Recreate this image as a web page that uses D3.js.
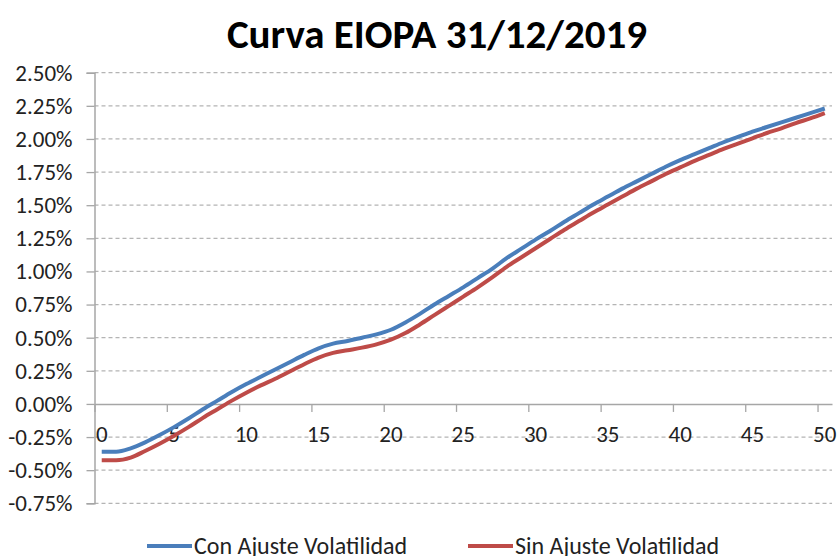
<!DOCTYPE html>
<html>
<head>
<meta charset="utf-8">
<script src="https://cdn.jsdelivr.net/npm/d3@7"></script>
<style>
  body { margin: 0; background: #fff; }
  svg { display: block; font-family: Carlito, Calibri, Lato, sans-serif; }
</style>
</head>
<body>
<div id="chart"></div>
<script>
// EIOPA risk free curve at 31/12/2019, maturity 0..50 years (values in %)
const maturities = d3.range(0, 51)

const conAjuste = [-0.36, -0.36, -0.335, -0.29, -0.235, -0.175, -0.11, -0.04, 0.025, 0.09,
  0.15, 0.205, 0.26, 0.315, 0.37, 0.42, 0.455, 0.475, 0.50, 0.525,
  0.56, 0.615, 0.68, 0.75, 0.815, 0.88, 0.95, 1.02, 1.10, 1.17,
  1.24, 1.305, 1.375, 1.44, 1.505, 1.565, 1.625, 1.68, 1.735, 1.79,
  1.84, 1.885, 1.93, 1.975, 2.015, 2.055, 2.09, 2.125, 2.16, 2.195, 2.23]

const sinAjuste = [-0.425, -0.425, -0.405, -0.355, -0.30, -0.24, -0.175, -0.105, -0.04, 0.025,
  0.085, 0.14, 0.19, 0.245, 0.30, 0.35, 0.385, 0.405, 0.425, 0.45,
  0.485, 0.535, 0.60, 0.67, 0.74, 0.81, 0.88, 0.955, 1.035, 1.105,
  1.175, 1.245, 1.315, 1.38, 1.445, 1.505, 1.565, 1.625, 1.68, 1.735,
  1.785, 1.835, 1.88, 1.925, 1.965, 2.005, 2.045, 2.08, 2.12, 2.155, 2.195]

const xTicks = [0, 5, 10, 15, 20, 25, 30, 35, 40, 45, 50]
const yTicks = [-0.75, -0.5, -0.25, 0, 0.25, 0.5, 0.75, 1, 1.25, 1.5, 1.75, 2, 2.25, 2.5]

const seriesNames = ['Con Ajuste Volatilidad', 'Sin Ajuste Volatilidad']
const seriesColors = ['#4a7ebb', '#be4b48']

const width = 839
const height = 556
const plot = { left: 94.5, right: 832, top: 72.7, bottom: 503.3 }

const svg = d3.select('#chart').append('svg')
  .attr('width', width)
  .attr('height', height)

// category axis: each maturity takes one slot, ticks sit between slots
const x = d3.scaleLinear().domain([0, maturities.length]).range([plot.left, plot.right])
const y = d3.scaleLinear().domain([-0.75, 2.5]).range([plot.bottom, plot.top])

// title
svg.append('text')
  .attr('x', 437)
  .attr('y', 48)
  .attr('text-anchor', 'middle')
  .style('font-size', '41px')
  .style('font-weight', '700')
  .style('fill', '#000')
  .text('Curva EIOPA 31/12/2019')

// dashed gridlines
svg.append('g')
  .selectAll('line')
  .data(yTicks.filter(d => d !== 0))
  .enter()
  .append('line')
  .attr('x1', plot.left)
  .attr('x2', plot.right)
  .attr('y1', d => y(d))
  .attr('y2', d => y(d))
  .style('stroke', '#b4b4b4')
  .style('stroke-width', 1.3)
  .style('stroke-dasharray', '4,3')

// y axis
const yAxis = svg.append('g')
  .attr('transform', `translate(${plot.left},0)`)
  .call(d3.axisLeft(y).tickValues(yTicks).tickSize(8).tickPadding(14)
    .tickFormat(d => d.toFixed(2) + '%'))
yAxis.select('.domain').style('stroke', '#a6a6a6').style('stroke-width', 1.5)
yAxis.selectAll('.tick line').style('stroke', '#a6a6a6').style('stroke-width', 1.3)
yAxis.selectAll('.tick text')
  .style('font-family', 'Carlito, Calibri, Lato, sans-serif')
  .style('font-size', '23px')
  .style('fill', '#222')

// x axis at 0%, with ticks below and labels centred on the categories
const xAxis = svg.append('g')
  .attr('transform', `translate(0,${y(0)})`)
  .call(d3.axisBottom(x).tickValues(xTicks).tickSize(8).tickSizeOuter(0).tickFormat(''))
xAxis.select('.domain').style('stroke', '#a6a6a6').style('stroke-width', 1.5)
xAxis.selectAll('.tick line').style('stroke', '#a6a6a6').style('stroke-width', 1.3)

svg.append('g')
  .selectAll('text')
  .data(xTicks)
  .enter()
  .append('text')
  .attr('x', d => x(d + 0.5))
  .attr('y', y(0) + 38)
  .attr('text-anchor', 'middle')
  .style('font-size', '23px')
  .style('fill', '#222')
  .text(d => d)

// the two curves
const line = d3.line()
  .x((d, i) => x(maturities[i] + 0.5))
  .y(d => y(d))
  .curve(d3.curveMonotoneX)

const series = [conAjuste, sinAjuste]
svg.append('g')
  .selectAll('path')
  .data(series)
  .enter()
  .append('path')
  .attr('d', d => line(d))
  .style('fill', 'none')
  .style('stroke', (d, i) => seriesColors[i])
  .style('stroke-width', 4)
  .style('stroke-linejoin', 'round')

// legend
const legendX = [147, 468]
const legend = svg.append('g')
  .selectAll('g')
  .data(seriesNames)
  .enter()
  .append('g')
  .attr('transform', (d, i) => `translate(${legendX[i]},546)`)

legend.append('line')
  .attr('x1', 0)
  .attr('x2', 45)
  .style('stroke', (d, i) => seriesColors[i])
  .style('stroke-width', 4)

legend.append('text')
  .attr('x', 47)
  .attr('y', 8)
  .style('font-size', '24px')
  .style('fill', '#222')
  .text(d => d)
</script>
</body>
</html>
